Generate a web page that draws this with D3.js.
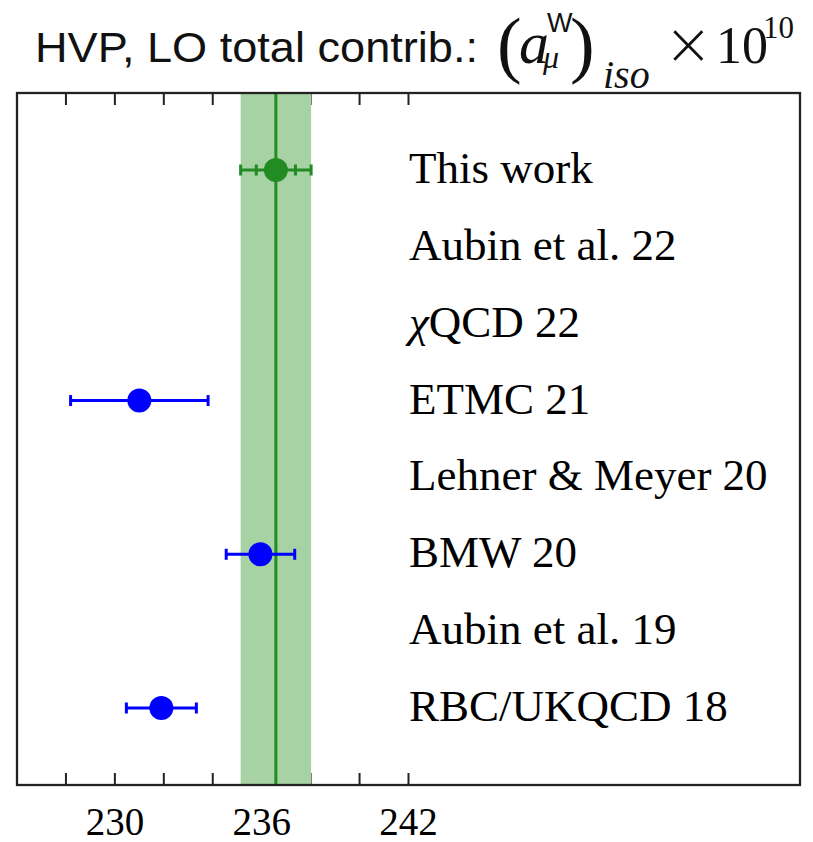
<!DOCTYPE html>
<html><head><meta charset="utf-8">
<script src="https://cdn.jsdelivr.net/npm/d3@7"></script>
<style>body{margin:0;background:#fff}svg{display:block}</style>
</head><body>
<svg id="c" width="813" height="842"></svg>
<script>
const categories = ["This work","Aubin et al. 22","χQCD 22","ETMC 21","Lehner & Meyer 20","BMW 20","Aubin et al. 19","RBC/UKQCD 18"];
const centralValues = [236.58, null, null, 231.0, null, 235.95, null, 231.9];
const totalErrors   = [1.44, null, null, 2.81, null, 1.40, null, 1.43];
const statErrors    = [0.80, null, null, null, null, null, null, null];
const pointColors   = ["#228b22", null, null, "#0000ff", null, "#0000ff", null, "#0000ff"];
const tickValues = [228,230,232,234,236,238,240,242];
const tickLabels = [230,236,242];
const bandCenter = 236.58, bandHalf = 1.44;

const svg = d3.select("#c");
const L=17, R=800, T=93, B=785;
const x = d3.scaleLinear().domain([226,258]).range([L,R]);
const y = d3.scalePoint().domain(categories).range([170,708]);

// ticks bottom & top
const tl = 12;
svg.append("g").selectAll("line.b").data(tickValues).join("line")
  .attr("x1",d=>x(d)).attr("x2",d=>x(d)).attr("y1",B).attr("y2",B-tl)
  .attr("stroke","#222").attr("stroke-width",2);
svg.append("g").selectAll("line.t").data(tickValues).join("line")
  .attr("x1",d=>x(d)).attr("x2",d=>x(d)).attr("y1",T).attr("y2",T+tl)
  .attr("stroke","#222").attr("stroke-width",2);

// band
svg.append("rect").attr("x",x(bandCenter-bandHalf)).attr("y",T)
  .attr("width",x(bandCenter+bandHalf)-x(bandCenter-bandHalf)).attr("height",B-T)
  .attr("fill","#a6d2a4");
svg.append("line").attr("x1",x(bandCenter)).attr("x2",x(bandCenter)).attr("y1",T).attr("y2",B)
  .attr("stroke","#228b22").attr("stroke-width",3);

// frame
svg.append("rect").attr("x",L).attr("y",T).attr("width",R-L).attr("height",B-T)
  .attr("fill","none").attr("stroke","#222").attr("stroke-width",2.3);

// tick labels
svg.append("g").selectAll("text").data(tickLabels).join("text")
  .attr("x",d=>x(d)).attr("y",835).attr("text-anchor","middle")
  .attr("font-family","Liberation Serif, serif").attr("font-size",39).text(d=>d);

// data points
const pts = categories.map((c,i)=>({c,v:centralValues[i],e:totalErrors[i],s:statErrors[i],col:pointColors[i]})).filter(d=>d.v!=null);
const g = svg.append("g");
const capH = 11;
pts.forEach(d=>{
  const yy = y(d.c);
  g.append("line").attr("x1",x(d.v-d.e)).attr("x2",x(d.v+d.e)).attr("y1",yy).attr("y2",yy)
    .attr("stroke",d.col).attr("stroke-width",3);
  [d.v-d.e,d.v+d.e].concat(d.s!=null?[d.v-d.s,d.v+d.s]:[]).forEach(v=>{
    g.append("line").attr("x1",x(v)).attr("x2",x(v)).attr("y1",yy-capH/2).attr("y2",yy+capH/2)
      .attr("stroke",d.col).attr("stroke-width",3);
  });
  g.append("circle").attr("cx",x(d.v)).attr("cy",yy).attr("r",12).attr("fill",d.col);
});

// row labels
const lab = svg.append("g").attr("font-family","Liberation Serif, serif").attr("font-size",45);
categories.forEach(c=>{
  const t = lab.append("text").attr("x",409).attr("y",y(c)+13);
  if(c.startsWith("χ")){
    t.append("tspan").attr("font-style","italic").text("χ");
    t.append("tspan").text(c.slice(1));
  } else t.text(c);
});

// title
svg.append("text").attr("x",35).attr("y",62).attr("font-family","Liberation Sans, Arial, sans-serif")
  .attr("font-size",43).attr("textLength",443).attr("lengthAdjust","spacingAndGlyphs")
  .attr("fill","#111").text("HVP, LO total contrib.:");
const m = svg.append("g").attr("font-family","Liberation Serif, serif").attr("fill","#111");
m.append("text").attr("x",497).attr("y",69).attr("font-size",74).text("(");
m.append("text").attr("x",519).attr("y",63).attr("font-size",60).attr("font-style","italic").text("a");
m.append("text").attr("x",547).attr("y",32).attr("font-size",27).attr("font-family","Liberation Sans, sans-serif").text("W");
m.append("text").attr("x",543).attr("y",68).attr("font-size",32).attr("font-style","italic").text("μ");
m.append("text").attr("x",570).attr("y",69).attr("font-size",74).text(")");
m.append("text").attr("x",603).attr("y",88).attr("font-size",40).attr("font-style","italic").text("iso");
m.append("text").attr("x",664).attr("y",64).attr("font-size",58).attr("font-family","DejaVu Sans, sans-serif").attr("font-weight",300).text("×");
m.append("text").attr("x",716).attr("y",63).attr("font-size",52).text("10");
m.append("text").attr("x",763).attr("y",38).attr("font-size",31).text("10");
</script>
</body></html>
